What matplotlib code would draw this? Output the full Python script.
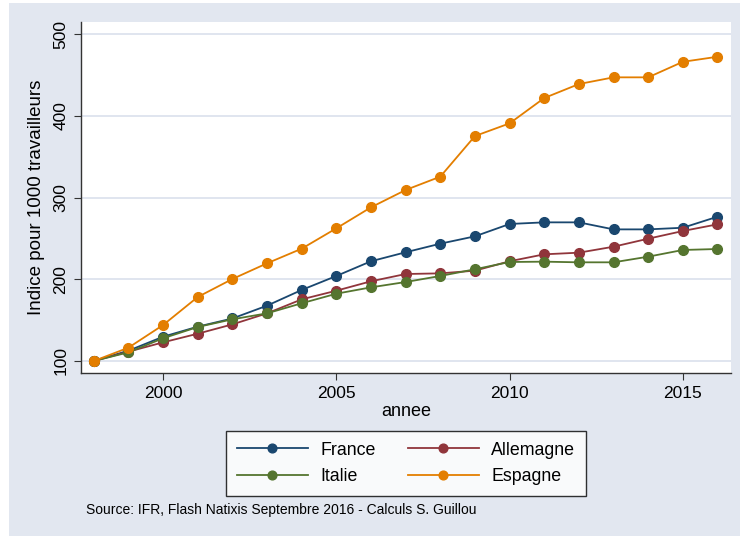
import matplotlib
matplotlib.use("Agg")
import matplotlib.pyplot as plt
from matplotlib.patches import Rectangle

plt.rcParams["font.family"] = ["Liberation Sans", "DejaVu Sans"]

# ===================== Data =====================
years = list(range(1998, 2017))
france = [100, 112.6, 129.7, 142, 152, 167.7, 186.9, 204, 222, 233, 243.5,
          252.5, 267.6, 269.6, 269.6, 261, 261, 263, 276.5]
allemagne = [100, 111.4, 122.8, 133.4, 144.8, 158.3, 175.4, 186, 197.5, 206.4,
             207.2, 210.5, 222, 230.5, 232.5, 239.8, 249.6, 259, 267.2]
italie = [100, 110.6, 127.8, 141.6, 151, 158.3, 170.6, 182.3, 190.1, 196.6,
          204, 212.2, 221.1, 221.5, 220.7, 220.7, 227.6, 235.8, 237]
espagne = [100, 116.3, 144, 178.3, 200.3, 219.5, 237.4, 262.3, 288, 309.2,
           325.5, 375.2, 390.7, 421.7, 438.8, 447, 447, 466, 472.2]

series = [("France", france, "#1a476f"),
          ("Allemagne", allemagne, "#90353b"),
          ("Italie", italie, "#55752f"),
          ("Espagne", espagne, "#e37e00")]

x_ticks = [2000, 2005, 2010, 2015]
y_ticks = [100, 200, 300, 400, 500]
source_note = "Source: IFR, Flash Natixis Septembre 2016 - Calculs S. Guillou"

# ===================== Plot =====================
W, H = 740, 538
bg = "#e2e7f0"

fig = plt.figure(figsize=(W / 100, H / 100), dpi=100, facecolor="white")
fig.patches.append(Rectangle((9 / W, 2 / H), (W - 9) / W, (H - 5) / H,
                             transform=fig.transFigure, facecolor=bg,
                             edgecolor="none", zorder=-10))

ax = fig.add_axes([81 / W, (H - 373) / H, 650 / W, 351 / H])
ax.set_facecolor("white")

lines = {}
for name, vals, color in series:
    lines[name], = ax.plot(years, vals, color=color, lw=1.3, marker="o", ms=7,
                           mec=color, mfc=color, label=name, zorder=3)

ax.set_xlim(1997.63, 2016.39)
ax.set_ylim(85.3, 514.7)
ax.set_xticks(x_ticks)
ax.set_yticks(y_ticks)
ax.set_yticklabels([str(v) for v in y_ticks], rotation=90, va="center")
ax.tick_params(axis="both", labelsize=12.5, length=5, width=0.8,
               color="#333333", pad=4)

ax.grid(True, axis="y", color="#dde3ee", lw=1.3, zorder=0)
for s in ["top", "right"]:
    ax.spines[s].set_visible(False)
for s in ["left", "bottom"]:
    ax.spines[s].set_color("#333333")
    ax.spines[s].set_linewidth(1.0)

ax.set_xlabel("annee", fontsize=13, labelpad=2)
ax.set_ylabel("Indice pour 1000 travailleurs", fontsize=13.5, labelpad=6)

# Legend (column-wise fill -> France/Italie, Allemagne/Espagne)
order = ["France", "Italie", "Allemagne", "Espagne"]
leg = fig.legend([lines[n] for n in order], order,
                 loc="center", bbox_to_anchor=(406 / W, (H - 463.5) / H),
                 ncol=2, fontsize=12.8, frameon=True, fancybox=False,
                 edgecolor="black", handlelength=4.0, columnspacing=1.8,
                 handletextpad=0.7, borderpad=0.6, labelspacing=0.55,
                 markerscale=0.9)
leg.get_frame().set_linewidth(1.0)
leg.get_frame().set_facecolor("white")

fig.text(86 / W, (H - 510) / H, source_note, fontsize=10, va="center", ha="left")

fig.savefig("out.png", dpi=100, facecolor="white")
